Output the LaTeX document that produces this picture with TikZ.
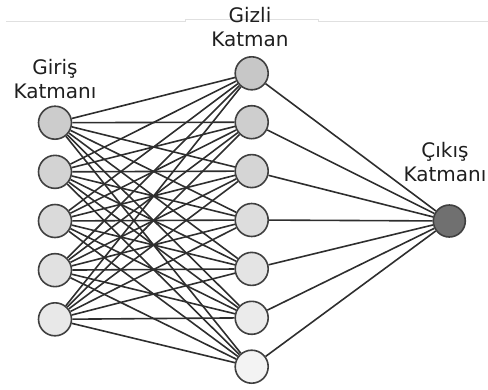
\documentclass[tikz,border=0pt]{standalone}
\usepackage{fontspec}
\setmainfont{DejaVu Sans}
\usepackage{tikz}
\usetikzlibrary{backgrounds}

\begin{document}
\begin{tikzpicture}[
  x=1pt, y=-1pt,
  font=\fontsize{20}{24.5}\selectfont,
  neuron/.style = {circle, draw=black!75, line width=1.6pt, inner sep=0pt,
                   minimum size=33pt},
  wire/.style   = {draw=black!82, line width=1.6pt},
  lbl/.style    = {align=center, text=black!88, inner sep=0pt},
]
\useasboundingbox (0,0) rectangle (488,389);

% faint rule along the top
\draw[black!12, line width=1pt] (6,21) -- (185,21) -- (185,19) -- (318,19)
  -- (318,21) -- (488,21);

% ================= layers ==============================================
\foreach \i in {1,...,5} {
  \pgfmathsetmacro{\shade}{20-2.75*(\i-1)}
  \node[neuron, fill=black!\shade] (in\i) at (55,{122.7+49.15*(\i-1)}) {};
}
\foreach \j in {1,...,7} {
  \pgfmathsetmacro{\shade}{22-2.85*(\j-1)}
  \node[neuron, fill=black!\shade] (hid\j) at (251.7,{73.3+48.9*(\j-1)}) {};
}
\node[neuron, minimum size=32pt, fill=black!56] (out) at (449.3,221) {};

% ================= labels ==============================================
\node[lbl] (inlbl)  at (55,79)  {Giriş\\Katmanı};
\node[lbl] (hidlbl) at (250,27) {Gizli\\Katman};
\node[lbl] (outlbl) at (445,162) {Çıkış\\Katmanı};

% ================= connections =========================================
\begin{scope}[on background layer]
  \foreach \i in {1,...,5}
    \foreach \j in {1,...,7}
      \draw[wire] (in\i) -- (hid\j);
  \foreach \j in {1,...,7}
    \draw[wire] (hid\j) -- (out);
\end{scope}

\end{tikzpicture}
\end{document}
